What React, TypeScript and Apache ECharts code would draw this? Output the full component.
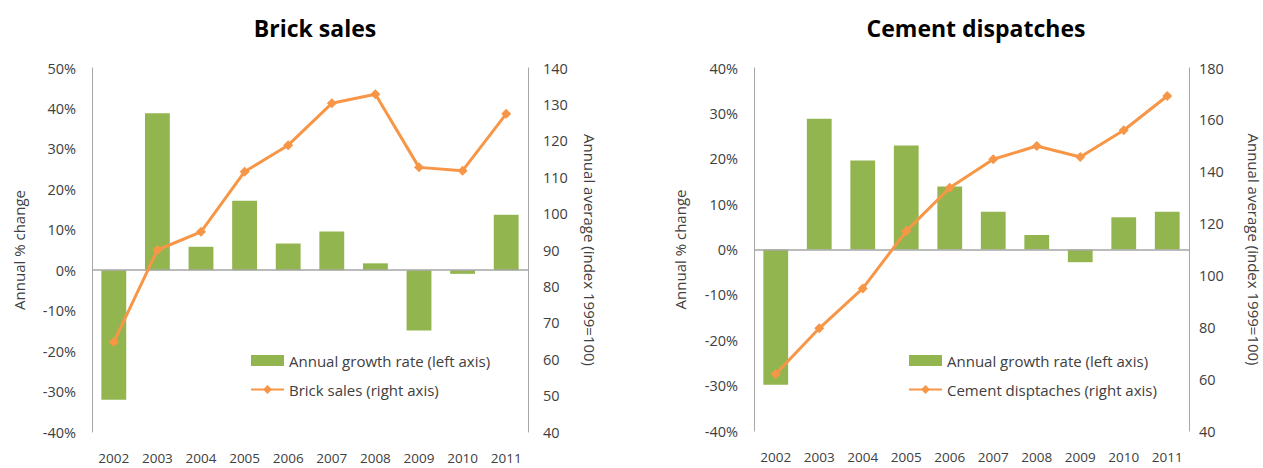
import React, { useEffect, useRef } from "react";
import * as echarts from "echarts";

const years = ["2002", "2003", "2004", "2005", "2006", "2007", "2008", "2009", "2010", "2011"];
const brickGrowth = [-32, 38.8, 5.8, 17.2, 6.6, 9.6, 1.7, -14.9, -0.9, 13.7];
const brickIndex = [64.7, 90, 95, 111.5, 118.8, 130.3, 132.8, 112.7, 111.8, 127.4];
const cementGrowth = [-29.8, 28.8, 19.6, 22.9, 13.9, 8.3, 3.2, -2.8, 7.1, 8.3];
const cementIndex = [62, 79.6, 95, 117.1, 133.8, 144.8, 149.9, 145.7, 156, 169.2];

const barName = "Annual growth rate (left axis)";
const brickLineName = "Brick sales (right axis)";
const cementLineName = "Cement disptaches (right axis)";

const FONT = "Open Sans";
const TXT = "#404040";
const AXIS = "#a6a6a6";
const GREEN = "#93b54f";
const ORANGE = "#f79646";

export default function App() {
  const ref = useRef<HTMLDivElement>(null);
  useEffect(() => {
    if (!ref.current) return;
    const chart = echarts.init(ref.current, undefined, { renderer: "svg" });
    const grids = [
      { left: 92, top: 68, width: 436, height: 364 },
      { left: 754, top: 68, width: 435, height: 363 },
    ];
    const xAxis = grids.map((_, i) => ({
      type: "category" as const,
      gridIndex: i,
      data: years,
      axisLine: { show: false, onZero: false },
      axisTick: { show: false },
      axisLabel: { color: TXT, fontFamily: FONT, fontSize: 13.5, margin: 19, interval: 0 },
    }));
    const yLeft = (i: number, min: number, max: number, gap: number, margin: number) => ({
      type: "value" as const,
      gridIndex: i,
      position: "left" as const,
      min,
      max,
      interval: 10,
      name: "Annual % change",
      nameLocation: "middle" as const,
      nameGap: gap,
      nameRotate: 90,
      nameTextStyle: { color: TXT, fontFamily: FONT, fontSize: 15 },
      axisLine: { show: true, lineStyle: { color: AXIS, width: 1 } },
      axisTick: { show: false },
      splitLine: { show: false },
      axisLabel: { color: TXT, fontFamily: FONT, fontSize: 14.5, margin, formatter: "{value}%" },
    });
    const yRight = (i: number, min: number, max: number, interval: number, gap: number, margin: number) => ({
      type: "value" as const,
      gridIndex: i,
      position: "right" as const,
      min,
      max,
      interval,
      name: "Annual average (index 1999=100)",
      nameLocation: "middle" as const,
      nameGap: gap,
      nameRotate: -90,
      nameTextStyle: { color: TXT, fontFamily: FONT, fontSize: 15 },
      axisLine: { show: true, lineStyle: { color: AXIS, width: 1 } },
      axisTick: { show: false },
      splitLine: { show: false },
      axisLabel: { color: TXT, fontFamily: FONT, fontSize: 14.5, margin },
    });
    const zeroLine = {
      silent: true,
      symbol: "none",
      label: { show: false },
      lineStyle: { color: AXIS, type: "solid", width: 1.5 },
      data: [{ yAxis: 0 }],
    };
    const barSeries = (xi: number, yi: number, data: number[]) => ({
      type: "bar" as const,
      name: barName,
      xAxisIndex: xi,
      yAxisIndex: yi,
      data,
      barWidth: "57%",
      itemStyle: { color: GREEN },
      markLine: zeroLine,
    });
    const lineSeries = (name: string, xi: number, yi: number, data: number[]) => ({
      type: "line" as const,
      name,
      xAxisIndex: xi,
      yAxisIndex: yi,
      data,
      symbol: "diamond",
      symbolSize: 10,
      lineStyle: { color: ORANGE, width: 3 },
      itemStyle: { color: ORANGE },
      z: 5,
    });
    const legend = (left: number, names: string[]) => ({
      orient: "vertical" as const,
      left,
      top: 348,
      itemWidth: 33,
      itemHeight: 11,
      itemGap: 14,
      selectedMode: false,
      textStyle: { color: TXT, fontFamily: FONT, fontSize: 15 },
      data: [{ name: names[0], icon: "rect" }, { name: names[1] }],
    });
    chart.setOption({
      animation: false,
      backgroundColor: "#ffffff",
      title: [
        {
          text: "Brick sales",
          left: 310,
          top: 11,
          textAlign: "center",
          textStyle: { color: "#000", fontFamily: FONT, fontSize: 23, fontWeight: "bold" },
        },
        {
          text: "Cement dispatches",
          left: 971,
          top: 11,
          textAlign: "center",
          textStyle: { color: "#000", fontFamily: FONT, fontSize: 23, fontWeight: "bold" },
        },
      ],
      grid: grids,
      legend: [legend(245, [barName, brickLineName]), legend(903, [barName, cementLineName])],
      xAxis,
      yAxis: [
        yLeft(0, -40, 50, 66, 16),
        { ...yRight(0, 40, 140, 10, 54, 15) },
        yLeft(1, -40, 40, 67, 16),
        { ...yRight(1, 40, 180, 20, 57, 10) },
      ],
      series: [
        barSeries(0, 0, brickGrowth),
        lineSeries(brickLineName, 0, 1, brickIndex),
        barSeries(1, 2, cementGrowth),
        lineSeries(cementLineName, 1, 3, cementIndex),
      ],
    });
    return () => chart.dispose();
  }, []);
  return (
    <div
      ref={ref}
      style={{ position: "absolute", left: 0, top: 0, width: 1263, height: 468 }}
    />
  );
}
